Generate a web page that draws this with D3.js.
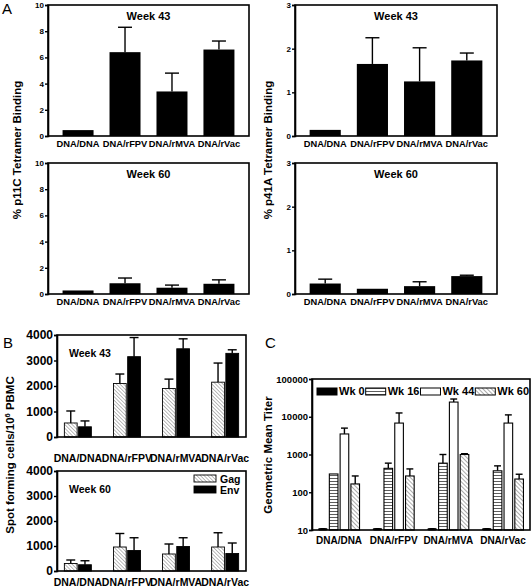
<!DOCTYPE html>
<html><head><meta charset="utf-8">
<script src="https://cdn.jsdelivr.net/npm/d3@7"></script>
<style>body{margin:0;background:#fff}svg{display:block;font-family:"Liberation Sans",Arial,Helvetica,sans-serif}</style>
</head><body><svg id="c" width="531" height="587"></svg>
<script>
// ---------- data ----------
const groups = ["DNA/DNA", "DNA/rFPV", "DNA/rMVA", "DNA/rVac"];
// Panel A: % tetramer binding (mean, SEM)
const p11cWk43 = [0.45, 6.4, 3.4, 6.6];
const p11cWk43Err = [0, 1.9, 1.4, 0.65];
const p11cWk60 = [0.27, 0.82, 0.48, 0.78];
const p11cWk60Err = [0, 0.4, 0.2, 0.3];
const p41aWk43 = [0.14, 1.65, 1.25, 1.73];
const p41aWk43Err = [0, 0.6, 0.77, 0.17];
const p41aWk60 = [0.24, 0.12, 0.18, 0.41];
const p41aWk60Err = [0.1, 0, 0.1, 0.02];
const p11cTicks = [0, 2, 4, 6, 8, 10];
const p41aTicks = [0, 1, 2, 3];
// Panel B: ELISPOT
const bSeries = ["Gag", "Env"];
const gagWk43 = [550, 2100, 1900, 2150];
const gagWk43Err = [470, 370, 370, 750];
const envWk43 = [400, 3150, 3460, 3280];
const envWk43Err = [230, 750, 390, 140];
const gagWk60 = [300, 960, 680, 960];
const gagWk60Err = [140, 540, 400, 570];
const envWk60 = [250, 820, 980, 700];
const envWk60Err = [160, 510, 350, 420];
const bTicks = [0, 1000, 2000, 3000, 4000];
// Panel C: geometric mean titer
const cSeries = ["Wk 0", "Wk 16", "Wk 44", "Wk 60"];
const wk0 = [11, 11, 11, 11];
const wk0Err = [0, 0, 0, 0];
const wk16 = [305, 430, 590, 370];
const wk16Err = [0, 160, 410, 130];
const wk44 = [3500, 6800, 24500, 6800];
const wk44Err = [1500, 5800, 5000, 4400];
const wk60 = [166, 270, 1000, 224];
const wk60Err = [104, 145, 50, 76];
const cTicks = [10, 100, 1000, 10000, 100000];

// ---------- drawing ----------
const svg = d3.select("#c");
const defs = svg.append("defs");
function diagPattern(id, spacing, color, width, angle) {
  const p = defs.append("pattern").attr("id", id).attr("patternUnits", "userSpaceOnUse")
    .attr("width", spacing).attr("height", spacing).attr("patternTransform", `rotate(${angle})`);
  p.append("rect").attr("width", spacing).attr("height", spacing).attr("fill", "#fff");
  p.append("line").attr("x1", 0).attr("y1", 0).attr("x2", 0).attr("y2", spacing)
    .attr("stroke", color).attr("stroke-width", width);
}
function horizPattern(id, spacing, color, width) {
  const p = defs.append("pattern").attr("id", id).attr("patternUnits", "userSpaceOnUse")
    .attr("width", spacing).attr("height", spacing);
  p.append("rect").attr("width", spacing).attr("height", spacing).attr("fill", "#fff");
  p.append("line").attr("x1", 0).attr("y1", spacing / 2).attr("x2", spacing).attr("y2", spacing / 2)
    .attr("stroke", color).attr("stroke-width", width);
}
diagPattern("gagHatch", 2.6, "#666", 0.9, -45);
diagPattern("wk60Hatch", 3, "#444", 0.9, -45);
horizPattern("wk16Lines", 3, "#333", 0.8);

const fill = {
  Gag: "url(#gagHatch)", Env: "#000",
  "Wk 0": "#000", "Wk 16": "url(#wk16Lines)", "Wk 44": "#fff", "Wk 60": "url(#wk60Hatch)"
};

function frameAndAxes(g, o) {
  const yAxis = d3.axisLeft(o.y).tickValues(o.ticks).tickSize(3).tickPadding(1)
    .tickFormat(d3.format("d"));
  const ax = g.append("g").attr("transform", `translate(${o.x0},0)`).call(yAxis);
  ax.select(".domain").attr("stroke-width", 1.6);
  ax.selectAll(".tick line").attr("stroke-width", 1.4);
  ax.selectAll("text").attr("font-size", o.tickFont).attr("font-weight", "bold").attr("fill", "#000");
  g.append("rect").attr("x", o.x0).attr("y", o.yTop).attr("width", o.x1 - o.x0).attr("height", o.yBot - o.yTop)
    .attr("fill", "none").attr("stroke", "#000").attr("stroke-width", 1.6);
  g.selectAll(".xl").data(groups).enter().append("text")
    .attr("x", d => o.xc(d)).attr("y", o.yBot + o.labelDy)
    .attr("text-anchor", "middle").attr("font-size", o.labelFont).attr("font-weight", "bold")
    .text(d => d);
}

function errBars(g, data, y, capW, sw) {
  data.filter(d => d.e > 0).forEach(d => {
    g.append("line").attr("x1", d.cx).attr("x2", d.cx).attr("y1", y(d.v)).attr("y2", y(d.v + d.e))
      .attr("stroke", "#000").attr("stroke-width", sw);
    g.append("line").attr("x1", d.cx - capW / 2).attr("x2", d.cx + capW / 2)
      .attr("y1", y(d.v + d.e)).attr("y2", y(d.v + d.e)).attr("stroke", "#000").attr("stroke-width", sw);
  });
}

// Panel A
function panelA(o) {
  const g = svg.append("g");
  const x = d3.scaleBand().domain(groups).range([o.x0, o.x1]).paddingInner(0.34).paddingOuter(0.31);
  const y = d3.scaleLinear().domain([0, o.max]).range([o.yBot, o.yTop]);
  const data = groups.map((k, i) => ({ k, v: o.vals[i], e: o.errs[i], cx: x(k) + x.bandwidth() / 2 }));
  errBars(g, data, y, 14, 1.4);
  g.selectAll(".bar").data(data).enter().append("rect")
    .attr("x", d => x(d.k)).attr("width", x.bandwidth())
    .attr("y", d => y(d.v)).attr("height", d => o.yBot - y(d.v)).attr("fill", "#000");
  frameAndAxes(g, { x0: o.x0, x1: o.x1, yTop: o.yTop, yBot: o.yBot, y, ticks: o.ticks, tickFont: 8,
    xc: d => x(d) + x.bandwidth() / 2, labelDy: 11, labelFont: 9.3 });
  g.append("text").attr("x", (o.x0 + o.x1) / 2).attr("y", o.yTop + 15).attr("text-anchor", "middle")
    .attr("font-size", 11).attr("font-weight", "bold").text(o.title);
}
panelA({ x0: 48, x1: 249, yTop: 5, yBot: 136, max: 10, ticks: p11cTicks, vals: p11cWk43, errs: p11cWk43Err, title: "Week 43" });
panelA({ x0: 295, x1: 497, yTop: 5, yBot: 136, max: 3, ticks: p41aTicks, vals: p41aWk43, errs: p41aWk43Err, title: "Week 43" });
panelA({ x0: 48, x1: 249, yTop: 163, yBot: 294, max: 10, ticks: p11cTicks, vals: p11cWk60, errs: p11cWk60Err, title: "Week 60" });
panelA({ x0: 295, x1: 497, yTop: 163, yBot: 294, max: 3, ticks: p41aTicks, vals: p41aWk60, errs: p41aWk60Err, title: "Week 60" });

// Panel B
function panelB(o) {
  const g = svg.append("g");
  const x = d3.scaleBand().domain(groups).range([o.x0, o.x1]).paddingInner(0.45).paddingOuter(0.15);
  const xs = d3.scaleBand().domain(bSeries).range([0, x.bandwidth()]).paddingInner(0.1);
  const y = d3.scaleLinear().domain([0, 4000]).range([o.yBot, o.yTop]);
  const data = [];
  groups.forEach((k, i) => {
    data.push({ k, s: "Gag", v: o.gag[i], e: o.gagE[i], x: x(k) + xs("Gag"), cx: x(k) + xs("Gag") + xs.bandwidth() / 2 });
    data.push({ k, s: "Env", v: o.env[i], e: o.envE[i], x: x(k) + xs("Env"), cx: x(k) + xs("Env") + xs.bandwidth() / 2 });
  });
  errBars(g, data, y, xs.bandwidth() * 0.7, 1.4);
  g.selectAll(".bar").data(data).enter().append("rect")
    .attr("x", d => d.x).attr("width", xs.bandwidth())
    .attr("y", d => y(d.v)).attr("height", d => o.yBot - y(d.v))
    .attr("fill", d => fill[d.s]).attr("stroke", "#000").attr("stroke-width", 0.9);
  frameAndAxes(g, { x0: o.x0, x1: o.x1, yTop: o.yTop, yBot: o.yBot, y, ticks: bTicks, tickFont: 12,
    xc: d => x(d) + x.bandwidth() / 2, labelDy: o.labelDy, labelFont: 10.5 });
  g.append("text").attr("x", o.x0 + 12).attr("y", o.yTop + 22)
    .attr("font-size", 10.5).attr("font-weight", "bold").text(o.title);
  if (o.legend) {
    bSeries.forEach((s, i) => {
      const ly = o.yTop + 4 + i * 11;
      g.append("rect").attr("x", o.x1 - 52).attr("y", ly).attr("width", 22).attr("height", 7)
        .attr("fill", fill[s]).attr("stroke", "#000").attr("stroke-width", 0.9);
      g.append("text").attr("x", o.x1 - 26).attr("y", ly + 7.5).attr("font-size", 10.5)
        .attr("font-weight", "bold").text(s);
    });
  }
}
panelB({ x0: 57, x1: 246, yTop: 335, yBot: 437, gag: gagWk43, gagE: gagWk43Err, env: envWk43, envE: envWk43Err, title: "Week 43", labelDy: 25, legend: false });
panelB({ x0: 57, x1: 246, yTop: 471, yBot: 571, gag: gagWk60, gagE: gagWk60Err, env: envWk60, envE: envWk60Err, title: "Week 60", labelDy: 15, legend: true });

// Panel C
(function () {
  const o = { x0: 312, x1: 530, yTop: 379, yBot: 530 };
  const g = svg.append("g");
  const x = d3.scaleBand().domain(groups).range([o.x0, o.x1]).paddingInner(0.25).paddingOuter(0.12);
  const xs = d3.scaleBand().domain(cSeries).range([0, x.bandwidth()]).paddingInner(0.2);
  const y = d3.scaleLog().domain([10, 100000]).range([o.yBot, o.yTop]);
  const vals = { "Wk 0": [wk0, wk0Err], "Wk 16": [wk16, wk16Err], "Wk 44": [wk44, wk44Err], "Wk 60": [wk60, wk60Err] };
  const data = [];
  groups.forEach((k, i) => cSeries.forEach(s => {
    data.push({ k, s, v: vals[s][0][i], e: vals[s][1][i], x: x(k) + xs(s), cx: x(k) + xs(s) + xs.bandwidth() / 2 });
  }));
  errBars(g, data, y, xs.bandwidth() * 0.8, 1.4);
  g.selectAll(".bar").data(data).enter().append("rect")
    .attr("x", d => d.x).attr("width", xs.bandwidth())
    .attr("y", d => y(d.v)).attr("height", d => o.yBot - y(d.v))
    .attr("rx", d => d.s === "Wk 0" ? 3 : 0)
    .attr("fill", d => fill[d.s]).attr("stroke", "#000").attr("stroke-width", 1.1);
  frameAndAxes(g, { x0: o.x0, x1: o.x1, yTop: o.yTop, yBot: o.yBot, y, ticks: cTicks, tickFont: 9.5,
    xc: d => x(d) + x.bandwidth() / 2, labelDy: 14, labelFont: 10 });
  // legend
  let lx = o.x0 + 5;
  cSeries.forEach(s => {
    g.append("rect").attr("x", lx).attr("y", o.yTop + 9).attr("width", 20).attr("height", 7)
      .attr("fill", fill[s]).attr("stroke", "#000").attr("stroke-width", 1);
    const t = g.append("text").attr("x", lx + 22).attr("y", o.yTop + 16).attr("font-size", 11)
      .attr("font-weight", "bold").text(s);
    lx += 22 + t.node().getComputedTextLength() + 1;
  });
})();

// Titles and panel letters
function vTitle(x, y, parts) {
  const t = svg.append("text").attr("transform", `translate(${x},${y}) rotate(-90)`)
    .attr("text-anchor", "middle").attr("font-size", 11.5).attr("font-weight", "bold");
  parts.forEach(p => {
    const ts = t.append("tspan").text(p.t);
    if (p.sup) ts.attr("baseline-shift", "super").attr("font-size", 7.5);
  });
}
vTitle(21, 150, [{ t: "% p11C Tetramer Binding" }]);
vTitle(272, 150, [{ t: "% p41A Tetramer Binding" }]);
vTitle(14, 455, [{ t: "Spot forming cells/10" }, { t: "6", sup: true }, { t: " PBMC" }]);
vTitle(272, 455, [{ t: "Geometric Mean Titer" }]);
[["A", 2, 14], ["B", 3, 348], ["C", 265, 348]].forEach(([l, x, y]) => {
  svg.append("text").attr("x", x).attr("y", y).attr("font-size", 15).text(l);
});
</script></body></html>
